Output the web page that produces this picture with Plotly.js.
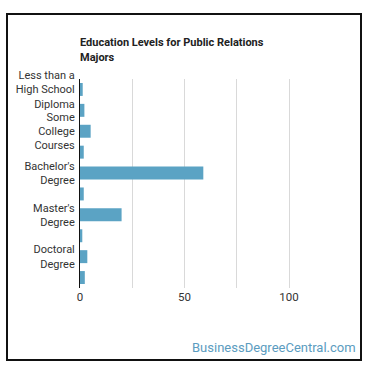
<!DOCTYPE html>
<html>
<head>
<meta charset="utf-8">
<script src="https://cdn.plot.ly/plotly-3.0.1.min.js"></script>
<style>
  html, body { margin: 0; padding: 0; background: #fff; }
  #wrap { position: relative; width: 370px; height: 370px; }
  #chart { width: 370px; height: 370px; }
  #frame { position: absolute; left: 6px; top: 13px; width: 352px; height: 344px; border: 2px solid #111; pointer-events: none; }
</style>
</head>
<body>
<div id="wrap">
  <div id="chart"></div>
  <div id="frame"></div>
</div>
<script>
const categories = [
  "Less than a High School Diploma",
  "High School Diploma",
  "Some College Courses",
  "Associate's Degree",
  "Bachelor's Degree",
  "Post-Baccalaureate",
  "Master's Degree",
  "Post-Master's Certificate",
  "Doctoral Degree",
  "Post-Doctoral Training"
];
const values = [1.3, 2.1, 5.1, 1.8, 59.0, 1.8, 19.9, 1.1, 3.5, 2.3];
const labelCategories = [
  "Less than a High School Diploma",
  "Some College Courses",
  "Bachelor's Degree",
  "Master's Degree",
  "Doctoral Degree"
];
const labelTexts = [
  "Less than a<br>High School<br>Diploma",
  "Some<br>College<br>Courses",
  "Bachelor's<br>Degree",
  "Master's<br>Degree",
  "Doctoral<br>Degree"
];
const xTicks = [0, 50, 100];

const trace = {
  type: 'bar',
  orientation: 'h',
  y: categories,
  x: values,
  marker: { color: '#5ba3c4' },
  hoverinfo: 'x+y'
};

const layout = {
  width: 370,
  height: 370,
  margin: { l: 80, r: 35, t: 79, b: 82 },
  paper_bgcolor: '#fff',
  plot_bgcolor: '#fff',
  bargap: 0.38,
  showlegend: false,
  font: { family: 'Roboto, "Open Sans", sans-serif', size: 11.5, color: '#333' },
  title: {
    text: '<b>Education Levels for Public Relations<br>Majors</b>',
    font: { family: 'Roboto, sans-serif', size: 11, color: '#222' },
    xref: 'paper', x: 0, xanchor: 'left',
    yref: 'container', y: 0.875, yanchor: 'top'
  },
  xaxis: {
    range: [0, 122],
    tickvals: xTicks,
    ticktext: xTicks.map(String),
    showgrid: true,
    gridcolor: '#d9d9d9',
    gridwidth: 1,
    minor: { dtick: 25, tick0: 0, showgrid: true, gridcolor: '#d9d9d9', gridwidth: 1 },
    zeroline: false,
    showline: false,
    ticks: '',
    tickfont: { size: 11.5, color: '#333' },
    fixedrange: true
  },
  yaxis: {
    type: 'category',
    autorange: 'reversed',
    tickvals: labelCategories,
    ticktext: labelTexts,
    showgrid: false,
    showline: true,
    linecolor: '#111',
    linewidth: 1,
    ticks: '',
    ticklabelstandoff: 2,
    tickfont: { size: 11, color: '#333' },
    fixedrange: true
  },
  annotations: [{
    text: 'BusinessDegreeCentral.com',
    xref: 'paper', yref: 'paper',
    x: 1.09, y: -0.287,
    xanchor: 'right', yanchor: 'middle',
    showarrow: false,
    font: { family: 'Roboto, sans-serif', size: 13, color: '#5b9cc0' }
  }]
};

Plotly.newPlot('chart', [trace], layout, { displayModeBar: false, staticPlot: true });
</script>
</body>
</html>
